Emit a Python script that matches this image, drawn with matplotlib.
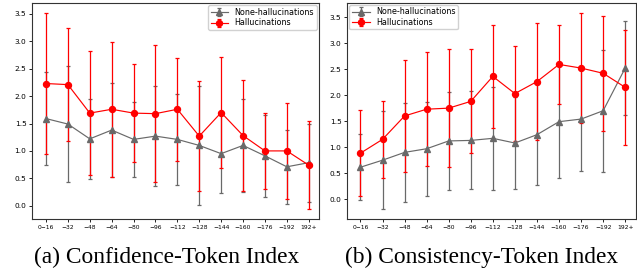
import numpy as np
import matplotlib.pyplot as plt

bins = ['0\u221216', '\u221232', '\u221248', '\u221264', '\u221280', '\u221296', '\u2212112',
        '\u2212128', '\u2212144', '\u2212160', '\u2212176', '\u2212192', '192+']

# (a) confidence - token index
conf_none = [1.59, 1.49, 1.22, 1.38, 1.21, 1.27, 1.21, 1.10, 0.95, 1.10, 0.91, 0.71, 0.785]
conf_none_std = [0.85, 1.06, 0.73, 0.86, 0.69, 0.91, 0.83, 1.08, 0.71, 0.85, 0.75, 0.68, 0.71]
conf_hall = [2.23, 2.21, 1.69, 1.76, 1.69, 1.68, 1.76, 1.27, 1.70, 1.28, 1.00, 1.00, 0.74]
conf_hall_std = [1.29, 1.03, 1.13, 1.23, 0.90, 1.25, 0.94, 1.00, 1.02, 1.01, 0.69, 0.87, 0.80]

# (b) consistency - token index
cons_none = [0.615, 0.75, 0.90, 0.97, 1.12, 1.13, 1.17, 1.08, 1.24, 1.49, 1.54, 1.70, 2.52]
cons_none_std = [0.63, 0.94, 0.95, 0.90, 0.94, 0.94, 0.99, 0.89, 0.97, 1.09, 1.00, 1.17, 0.91]
cons_hall = [0.885, 1.15, 1.60, 1.73, 1.75, 1.88, 2.36, 2.03, 2.26, 2.59, 2.52, 2.42, 2.15]
cons_hall_std = [0.83, 0.74, 1.07, 1.10, 1.13, 1.00, 0.99, 0.91, 1.13, 0.76, 1.06, 1.10, 1.10]

W, H = 637, 269
fig = plt.figure(figsize=(W / 100, H / 100), dpi=100)


def make_ax(l, r, t, b):
    return fig.add_axes([l / W, 1 - b / H, (r - l) / W, (b - t) / H])


def draw(ax, none, none_std, hall, hall_std, loc):
    x = np.arange(len(bins))
    ax.errorbar(x, none, yerr=none_std, color='dimgray', marker='^', ms=4.2, lw=0.85,
                elinewidth=0.9, capsize=1.6, capthick=0.9, label='None-hallucinations')
    ax.errorbar(x, hall, yerr=hall_std, color='red', marker='o', ms=4.3, lw=0.85,
                elinewidth=0.9, capsize=1.6, capthick=0.9, label='Hallucinations')
    ax.set_xticks(x)
    ax.set_xticklabels(bins, fontsize=4.3)
    ax.set_yticks([0, 0.5, 1.0, 1.5, 2.0, 2.5, 3.0, 3.5])
    ax.tick_params(axis='y', labelsize=5.3, length=2.5, width=0.6, pad=1.5)
    ax.tick_params(axis='x', length=2.5, width=0.6, pad=1.5)
    for s in ax.spines.values():
        s.set_linewidth(0.8)
        s.set_color('#333333')
    ax.legend(loc=loc, fontsize=5.8, handlelength=2.2, borderpad=0.3,
              labelspacing=0.2, framealpha=0.9, borderaxespad=0.3)


ax1 = make_ax(32, 319, 3, 219)
draw(ax1, conf_none, conf_none_std, conf_hall, conf_hall_std, 'upper right')
ax1.set_xlim(-0.64, 12.47)
ax1.set_ylim(-0.243, 3.70)

ax2 = make_ax(347, 636, 2.5, 219)
draw(ax2, cons_none, cons_none_std, cons_hall, cons_hall_std, 'upper left')
ax2.set_xlim(-0.61, 12.49)
ax2.set_ylim(-0.38, 3.78)

fig.text(167 / W, 1 - 257 / H, '(a) Confidence-Token Index', family='Liberation Serif',
         fontsize=16.8, ha='center', va='center')
fig.text(482 / W, 1 - 257 / H, '(b) Consistency-Token Index', family='Liberation Serif',
         fontsize=16.8, ha='center', va='center')

fig.savefig('out.png', dpi=100)
